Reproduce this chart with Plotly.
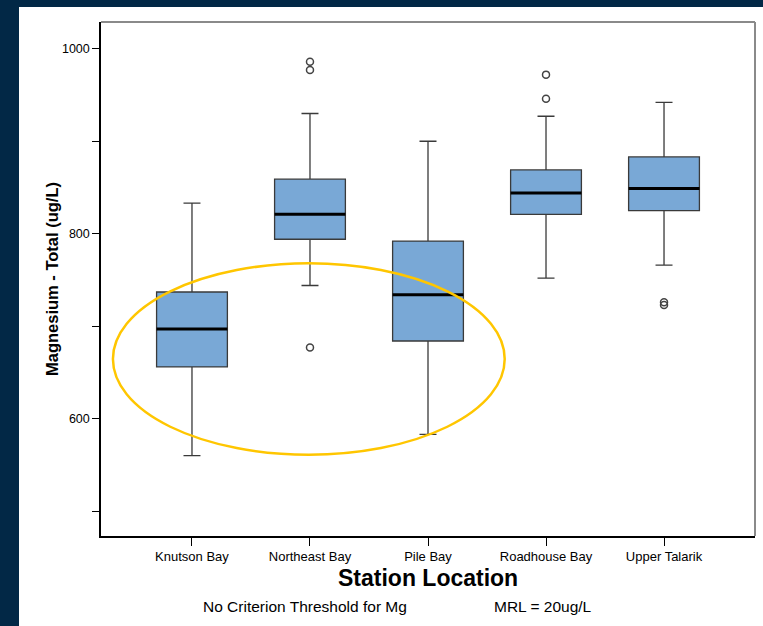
import plotly.graph_objects as go

# Magnesium (total) summary by station
stations = ["Knutson Bay", "Northeast Bay", "Pile Bay", "Roadhouse Bay", "Upper Talarik"]
lower_whisker = [560, 744, 583, 752, 766]
q1 = [656, 794, 684, 821, 825]
median = [697, 821, 734, 844, 849]
q3 = [737, 859, 792, 869, 883]
upper_whisker = [833, 930, 900, 927, 942]

# Outlying observations: (station index, value)
outlier_station = [1, 1, 1, 3, 3, 4, 4]
outlier_value = [986, 977, 677, 972, 946, 726, 723]

y_ticks = [500, 600, 700, 800, 900, 1000]
y_ticklabels = ["", "600", "", "800", "", "1000"]

BOX_FILL = "#79a8d6"
BOX_EDGE = "#3a3a3a"
BOX_W = 0.6
FONT = "Liberation Sans, Arial, sans-serif"

# plot-area geometry in pixels, used to place the loose texts
L, R, T, B, W, H = 101, 8, 22, 90, 763, 626
PW, PH = W - L - R, H - T - B


def px_x(px):
    return (px - L) / PW


def px_y(py):
    return (H - B - py) / PH


fig = go.Figure()

xs = list(range(len(stations)))
for i in xs:
    fig.add_trace(go.Box(
        x=[i], q1=[q1[i]], median=[median[i]], q3=[q3[i]],
        lowerfence=[lower_whisker[i]], upperfence=[upper_whisker[i]],
        boxpoints=False, width=BOX_W, whiskerwidth=0.24,
        fillcolor=BOX_FILL, line=dict(color=BOX_EDGE, width=1.3),
        showlegend=False, hoverinfo="skip",
    ))

# Heavy median bars across each box
mx, my = [], []
for i in xs:
    mx += [i - BOX_W / 2, i + BOX_W / 2, None]
    my += [median[i], median[i], None]
fig.add_trace(go.Scatter(x=mx, y=my, mode="lines",
                         line=dict(color="black", width=3),
                         showlegend=False, hoverinfo="skip"))

fig.add_trace(go.Scatter(
    x=outlier_station, y=outlier_value, mode="markers",
    marker=dict(symbol="circle-open", size=7, color="#444",
                line=dict(width=1.5, color="#444")),
    showlegend=False, hoverinfo="skip",
))

shapes = [
    # white card behind the chart
    dict(type="rect", xref="paper", yref="paper", x0=px_x(19), x1=px_x(770),
         y0=px_y(640), y1=px_y(7), fillcolor="white", line=dict(width=0),
         layer="below"),
    # frame top and right edges
    dict(type="line", xref="paper", yref="paper", x0=0, x1=1, y0=1, y1=1,
         line=dict(color="#8a8a8a", width=2)),
    dict(type="line", xref="paper", yref="paper", x0=1, x1=1, y0=0, y1=1,
         line=dict(color="#8a8a8a", width=2)),
    # highlight around the lower-concentration stations
    dict(type="circle", xref="x", yref="y", x0=-0.67, x1=2.65,
         y0=561, y1=768, line=dict(color="#ffc600", width=2.5),
         fillcolor="rgba(0,0,0,0)"),
]

fig.update_layout(
    width=W, height=H,
    margin=dict(l=L, r=R, t=T, b=B),
    paper_bgcolor="#022846",
    plot_bgcolor="white",
    font=dict(family=FONT, color="black"),
    shapes=shapes,
    xaxis=dict(
        range=[-0.771, 4.771], tickmode="array", tickvals=xs, ticktext=stations,
        showline=True, linecolor="black", linewidth=1.5,
        ticks="outside", ticklen=8, tickcolor="black", tickwidth=1.2,
        showgrid=False, zeroline=False, tickfont=dict(size=13),
    ),
    yaxis=dict(
        range=[473.2, 1028.9], tickmode="array", tickvals=y_ticks,
        ticktext=y_ticklabels,
        showline=True, linecolor="black", linewidth=1.5,
        ticks="outside", ticklen=7, tickcolor="black", tickwidth=1.2,
        showgrid=False, zeroline=False, tickfont=dict(size=12.5),
    ),
    annotations=[
        dict(text="<b>Magnesium - Total (ug/L)</b>", xref="paper", yref="paper",
             x=px_x(52), y=px_y(279), textangle=-90, showarrow=False,
             xanchor="center", yanchor="middle", font=dict(size=16.5)),
        dict(text="<b>Station Location</b>", xref="paper", yref="paper",
             x=px_x(428), y=px_y(578), showarrow=False,
             xanchor="center", yanchor="middle", font=dict(size=23)),
        dict(text="No Criterion Threshold for Mg", xref="paper", yref="paper",
             x=px_x(304.5), y=px_y(606), showarrow=False,
             xanchor="center", yanchor="middle", font=dict(size=15.5)),
        dict(text="MRL = 20ug/L", xref="paper", yref="paper",
             x=px_x(542.5), y=px_y(606), showarrow=False,
             xanchor="center", yanchor="middle", font=dict(size=15.5)),
    ],
)

fig.write_html("out.html")
